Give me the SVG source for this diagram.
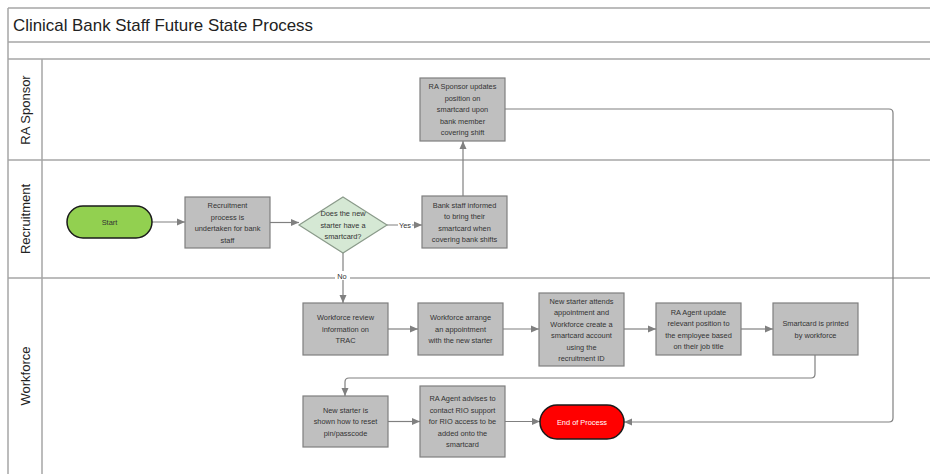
<svg xmlns="http://www.w3.org/2000/svg" width="930" height="474" viewBox="0 0 930 474">
<style>
.frame{fill:none;stroke:#a6a6a6;stroke-width:1.5}
.box{fill:#bfbfbf;stroke:#7f7f7f;stroke-width:1.2}
.t{font-family:"Liberation Sans",Arial,sans-serif;font-size:7.4px;fill:#333;text-anchor:middle}
.lane{font-family:"Liberation Sans",Arial,sans-serif;font-size:13px;fill:#222;text-anchor:middle}
.c{fill:none;stroke:#808080;stroke-width:1.2;marker-end:url(#ah)}
.lbl{font-family:"Liberation Sans",Arial,sans-serif;font-size:7.4px;fill:#333;text-anchor:middle}
</style>
<defs>
<marker id="ah" markerUnits="userSpaceOnUse" markerWidth="8" markerHeight="8" refX="8" refY="4" orient="auto">
<path d="M0,0.5 L8,4 L0,7.5 z" fill="#808080"/>
</marker>
</defs>
<rect width="930" height="474" fill="#fff"/>
<g id="frame">
<path class="frame" d="M8,8 H932 M8,42 H932 M8,59 H932 M8,160 H932 M8,278 H932 M8,8 V476 M42,59 V476"/>
<text x="13" y="31" font-family="Liberation Sans,Arial,sans-serif" font-size="17" fill="#222" textLength="300" lengthAdjust="spacingAndGlyphs">Clinical Bank Staff Future State Process</text>
<text class="lane" transform="translate(30,110) rotate(-90)">RA Sponsor</text>
<text class="lane" transform="translate(30,219) rotate(-90)">Recruitment</text>
<text class="lane" transform="translate(30,376) rotate(-90)">Workforce</text>
</g>
<g id="connectors">
<path class="c" d="M152,222 H185"/>
<path class="c" d="M270,222.5 H299"/>
<path class="c" d="M387,225 H422"/>
<path class="c" d="M463,196 V141"/>
<path class="c" d="M343,253 V303"/>
<path class="c" d="M388,329 H418"/>
<path class="c" d="M503,329 H539"/>
<path class="c" d="M624,329 H656"/>
<path class="c" d="M741,329 H773"/>
<path class="c" d="M815,355 V374 Q815,378 811,378 H349 Q345,378 345,382 V396"/>
<path class="c" d="M388,421.5 H420"/>
<path class="c" d="M505,421.5 H540"/>
<path class="c" d="M505,109 H889 Q893,109 893,113 V418 Q893,422 889,422 H624"/>
<rect x="398" y="221" width="14" height="9" fill="#fff"/>
<text class="lbl" x="405" y="228">Yes</text>
<rect x="335" y="271" width="15" height="9" fill="#fff"/>
<text class="lbl" x="342" y="278.5">No</text>
</g>
<g id="sponsor">
<rect class="box" x="420" y="78" width="85" height="63"/>
<text class="t" x="462.5" y="89">RA Sponsor updates</text>
<text class="t" x="462.5" y="100.5">position on</text>
<text class="t" x="462.5" y="112">smartcard upon</text>
<text class="t" x="462.5" y="123.5">bank member</text>
<text class="t" x="462.5" y="135">covering shift</text>
</g>
<g id="start">
<rect x="67" y="206" width="85" height="32" rx="16" fill="#92d050" stroke="#1a1a1a" stroke-width="1.5"/>
<text class="t" x="109.5" y="225" fill="#222">Start</text>
</g>
<g id="recruit">
<rect class="box" x="185" y="197" width="85" height="51"/>
<text class="t" x="227.5" y="208">Recruitment</text>
<text class="t" x="227.5" y="219.5">process is</text>
<text class="t" x="227.5" y="231">undertaken for bank</text>
<text class="t" x="227.5" y="242.5">staff</text>
</g>
<g id="decision">
<polygon points="343,197 387,225 343,253 299,225" fill="#d5e8d4" stroke="#8a9a8a" stroke-width="1.2"/>
<text class="t" x="343" y="216">Does the new</text>
<text class="t" x="343" y="227.5">starter have a</text>
<text class="t" x="343" y="239">smartcard?</text>
</g>
<g id="bank">
<rect class="box" x="422" y="196" width="85" height="52"/>
<text class="t" x="464.5" y="207.5">Bank staff informed</text>
<text class="t" x="464.5" y="219">to bring their</text>
<text class="t" x="464.5" y="230.5">smartcard when</text>
<text class="t" x="464.5" y="242">covering bank shifts</text>
</g>
<g id="wfreview">
<rect class="box" x="303" y="303" width="85" height="52"/>
<text class="t" x="345.5" y="320">Workforce review</text>
<text class="t" x="345.5" y="331.5">information on</text>
<text class="t" x="345.5" y="343">TRAC</text>
</g>
<g id="arrange">
<rect class="box" x="418" y="303" width="85" height="52"/>
<text class="t" x="460.5" y="320">Workforce arrange</text>
<text class="t" x="460.5" y="331.5">an appointment</text>
<text class="t" x="460.5" y="343">with the new starter</text>
</g>
<g id="attends">
<rect class="box" x="539" y="293" width="85" height="73"/>
<text class="t" x="581.5" y="303.5">New starter attends</text>
<text class="t" x="581.5" y="315">appointment and</text>
<text class="t" x="581.5" y="326.5">Workforce create a</text>
<text class="t" x="581.5" y="338">smartcard account</text>
<text class="t" x="581.5" y="349.5">using the</text>
<text class="t" x="581.5" y="361">recruitment ID</text>
</g>
<g id="raupdate">
<rect class="box" x="656" y="303" width="85" height="52"/>
<text class="t" x="698.5" y="314.5">RA Agent update</text>
<text class="t" x="698.5" y="326">relevant position to</text>
<text class="t" x="698.5" y="337.5">the employee based</text>
<text class="t" x="698.5" y="349">on their job title</text>
</g>
<g id="printed">
<rect class="box" x="773" y="303" width="85" height="52"/>
<text class="t" x="815.5" y="326">Smartcard is printed</text>
<text class="t" x="815.5" y="337.5">by workforce</text>
</g>
<g id="shown">
<rect class="box" x="303" y="396" width="85" height="51"/>
<text class="t" x="345.5" y="412.5">New starter is</text>
<text class="t" x="345.5" y="424">shown how to reset</text>
<text class="t" x="345.5" y="435.5">pin/passcode</text>
</g>
<g id="advises">
<rect class="box" x="420" y="386" width="85" height="71"/>
<text class="t" x="462.5" y="401">RA Agent advises to</text>
<text class="t" x="462.5" y="412.5">contact RIO support</text>
<text class="t" x="462.5" y="424">for RIO access to be</text>
<text class="t" x="462.5" y="435.5">added onto the</text>
<text class="t" x="462.5" y="447">smartcard</text>
</g>
<g id="end">
<rect x="540" y="405" width="84" height="34" rx="17" fill="#ff0000" stroke="#1a1a1a" stroke-width="1.5"/>
<text class="t" x="582" y="424.5" style="fill:#fff">End of Process</text>
</g>
</svg>
